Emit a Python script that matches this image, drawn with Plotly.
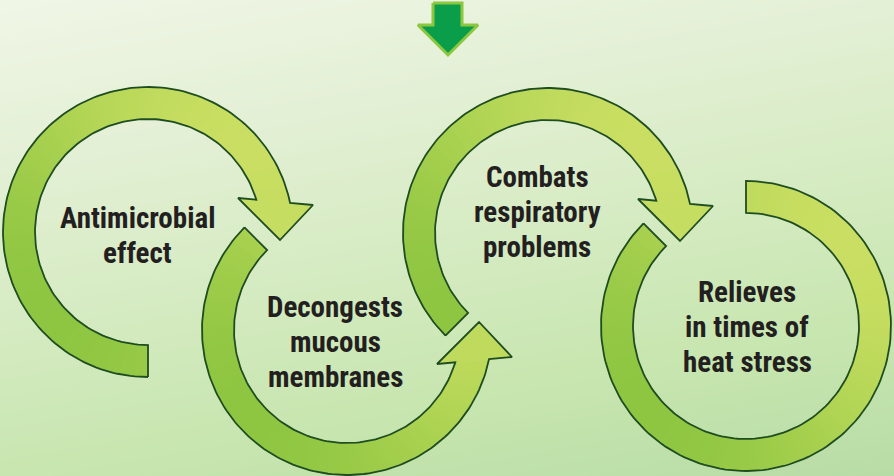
import numpy as np
import plotly.graph_objects as go

# ---- content ----
label_lines = [
    ["Antimicrobial", "effect"],
    ["Decongests", "mucous", "membranes"],
    ["Combats", "respiratory", "problems"],
    ["Relieves", "in times of", "heat stress"],
]
# ring geometry (pixel space of 894x476 canvas)
center_x = [148, 347, 548, 746]
center_y = [232, 330, 233, 326]
start_angle = [270, 135, 225, 135]
direction = [-1, 1, -1, 1]
has_arrow = [True, True, True, False]
flat_end_angle = [None, None, None, 450]
label_x = [137, 335, 537, 747]
label_y = [235, 342, 212, 327]

W, H = 894, 476
R_OUT, R_IN = 145, 113
LINE_H = 35
# arrowhead (relative, y up) for a clockwise arrow; mirrored for counter-clockwise
HEAD_WING_IN = (90, 34)
HEAD_WING_OUT = (165, 27)
HEAD_TIP = (132, -8)

GREEN = (138, 196, 63)
LIGHT = (205, 224, 100)
OUTLINE = "#1f4d22"
TEXT = "#231f20"
PHI = np.radians(40)


def col(x, y, cx, cy):
    t = ((x - cx) * np.cos(PHI) + (cy - y) * np.sin(PHI)) / R_OUT
    s = min(max((t + 1) / 2, 0), 1)
    c = [int(round(GREEN[k] + (LIGHT[k] - GREEN[k]) * s)) for k in range(3)]
    return "rgb(%d,%d,%d)" % tuple(c)


def pt(cx, cy, r, a):
    return cx + r * np.cos(np.radians(a)), cy - r * np.sin(np.radians(a))


def line_circle(A, B, r):
    A = np.array(A, float); B = np.array(B, float); d = B - A
    a = d @ d; b = 2 * A @ d; c = A @ A - r * r
    t = (-b + np.sqrt(b * b - 4 * a * c)) / (2 * a)
    if not (0 <= t <= 1):
        t = (-b - np.sqrt(b * b - 4 * a * c)) / (2 * a)
    p = A + t * d
    return np.degrees(np.arctan2(p[1], p[0]))


fig = go.Figure()

# background gradient
fig.add_trace(go.Heatmap(
    x=[0, W], y=[0, H], z=[[0, 0.25], [0.75, 1]], zsmooth="best",
    colorscale=[[0, "#f0f6e6"], [0.25, "#e4f0d6"], [0.75, "#c8e6b0"], [1, "#b8dca6"]],
    showscale=False, hoverinfo="skip"))

N = 90
for i in range(4):
    cx, cy, a0, dr = center_x[i], center_y[i], start_angle[i], direction[i]
    head = []
    if has_arrow[i]:
        sgn = 1 if dr < 0 else -1
        wi = (HEAD_WING_IN[0], sgn * HEAD_WING_IN[1])
        wo = (HEAD_WING_OUT[0], sgn * HEAD_WING_OUT[1])
        tp = (HEAD_TIP[0], sgn * HEAD_TIP[1])
        e_out = line_circle(wi, wo, R_OUT)
        e_in = line_circle(wi, wo, R_IN)
        if dr > 0:
            while e_out < a0: e_out += 360
            while e_in < a0: e_in += 360
        else:
            while e_out > a0: e_out -= 360
            while e_in > a0: e_in -= 360
        head = [(cx + p[0], cy - p[1]) for p in (wo, tp, wi)]
    else:
        e_out = e_in = flat_end_angle[i]

    # gradient-filled ring built from thin slices
    for k in range(N):
        s0 = k / N
        s1 = min((k + 1.35) / N, 1)
        o0 = a0 + s0 * (e_out - a0); o1 = a0 + s1 * (e_out - a0)
        n0 = a0 + s0 * (e_in - a0); n1 = a0 + s1 * (e_in - a0)
        pts = [pt(cx, cy, R_OUT, o0), pt(cx, cy, R_OUT, o1),
               pt(cx, cy, R_IN, n1), pt(cx, cy, R_IN, n0)]
        xs = [p[0] for p in pts] + [pts[0][0]]
        ys = [p[1] for p in pts] + [pts[0][1]]
        mx, my = np.mean(xs[:4]), np.mean(ys[:4])
        c = col(mx, my, cx, cy)
        fig.add_trace(go.Scatter(x=xs, y=ys, fill="toself", fillcolor=c,
                                 mode="lines", line=dict(color=c, width=0.6),
                                 hoverinfo="skip"))
    if head:
        po = pt(cx, cy, R_OUT, e_out); pi = pt(cx, cy, R_IN, e_in)
        hp = [po] + head + [pi]
        mx = np.mean([p[0] for p in hp]); my = np.mean([p[1] for p in hp])
        c = col(mx, my, cx, cy)
        fig.add_trace(go.Scatter(x=[p[0] for p in hp] + [po[0]],
                                 y=[p[1] for p in hp] + [po[1]],
                                 fill="toself", fillcolor=c, mode="lines",
                                 line=dict(color=c, width=0.6), hoverinfo="skip"))
    # outline
    ao = np.linspace(a0, e_out, 150); ai = np.linspace(e_in, a0, 150)
    ox = [pt(cx, cy, R_OUT, a)[0] for a in ao]; oy = [pt(cx, cy, R_OUT, a)[1] for a in ao]
    ix = [pt(cx, cy, R_IN, a)[0] for a in ai]; iy = [pt(cx, cy, R_IN, a)[1] for a in ai]
    hx = [p[0] for p in head]; hy = [p[1] for p in head]
    fig.add_trace(go.Scatter(x=ox + hx + ix + [ox[0]], y=oy + hy + iy + [oy[0]],
                             mode="lines", line=dict(color=OUTLINE, width=1.8),
                             hoverinfo="skip"))

# top down-arrow
arrow_x = [433, 462, 462, 478, 448, 418, 433, 433]
arrow_y = [3, 3, 25, 25, 55, 25, 25, 3]
fig.add_trace(go.Scatter(x=arrow_x, y=arrow_y, fill="toself", fillcolor="#0a9e4a",
                         mode="lines", line=dict(color="#8dc63f", width=3),
                         hoverinfo="skip"))

# labels
for i, lines in enumerate(label_lines):
    n = len(lines)
    for j, txt in enumerate(lines):
        y = label_y[i] + (j - (n - 1) / 2) * LINE_H
        fig.add_annotation(x=label_x[i], y=y, text="<b>%s</b>" % txt, showarrow=False,
                           xanchor="center", yanchor="middle",
                           font=dict(family="Roboto Condensed, Roboto, sans-serif",
                                     size=29, color=TEXT))

fig.update_layout(width=W, height=H, margin=dict(l=0, r=0, t=0, b=0),
                  showlegend=False, plot_bgcolor="#e4f0d6", paper_bgcolor="#e4f0d6",
                  xaxis=dict(range=[0, W], visible=False, fixedrange=True),
                  yaxis=dict(range=[H, 0], visible=False, fixedrange=True))
fig.write_html("out.html", post_script="document.body.style.margin='0';",
               config={"displayModeBar": False})
